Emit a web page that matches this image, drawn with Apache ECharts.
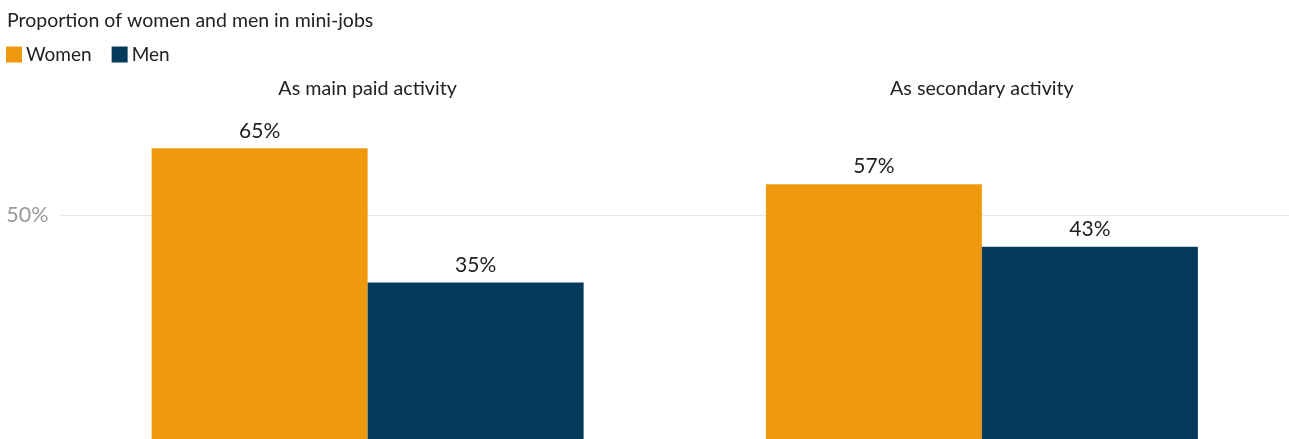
<!DOCTYPE html>
<html>
<head>
<meta charset="utf-8">
<script src="https://cdn.jsdelivr.net/npm/echarts@6/dist/echarts.min.js"></script>
<style>
  html, body { margin: 0; padding: 0; background: #fff; }
  #chart { width: 1289px; height: 439px; }
</style>
</head>
<body>
<div id="chart"></div>
<script>
const categories = ['As main paid activity', 'As secondary activity'];
const women = [65, 57];
const men = [35, 43];
const yTicks = [50];

const chart = echarts.init(document.getElementById('chart'), null, { renderer: 'canvas' });
const font = 'Lato, "Open Sans", sans-serif';

chart.setOption({
  animation: false,
  title: {
    text: 'Proportion of women and men in mini-jobs',
    left: 2, top: 6,
    textStyle: { fontFamily: font, fontSize: 19.5, fontWeight: 'normal', color: '#222' }
  },
  legend: {
    left: 1, top: 40,
    itemWidth: 16, itemHeight: 16, itemGap: 20,
    icon: 'rect',
    textStyle: { fontFamily: font, fontSize: 19, color: '#222', padding: [0, 0, 0, -1] },
    data: ['Women', 'Men']
  },
  grid: { left: 60.5, right: -1.5, top: 126, bottom: -4, containLabel: false },
  xAxis: {
    type: 'category',
    position: 'top',
    data: categories,
    axisLine: { show: false },
    axisTick: { show: false },
    axisLabel: { fontFamily: font, fontSize: 19.7, color: '#222', margin: 27 }
  },
  yAxis: {
    type: 'value',
    min: 0, max: 70, interval: 50,
    axisLine: { show: false },
    axisTick: { show: false },
    axisLabel: {
      fontFamily: font, fontSize: 21.5, color: '#999', margin: 12,
      formatter: v => yTicks.includes(v) ? v + '%' : ''
    },
    splitLine: { show: true, showMinLine: false, showMaxLine: false, lineStyle: { color: '#e6e6e6', width: 1 } }
  },
  series: [
    {
      name: 'Women', type: 'bar', data: women,
      barWidth: 216, barGap: '0%',
      itemStyle: { color: '#EF9A0E' },
      label: { show: true, position: 'top', distance: 7, formatter: '{c}%', fontFamily: font, fontSize: 21, color: '#222' }
    },
    {
      name: 'Men', type: 'bar', data: men,
      barWidth: 216, barGap: '0%',
      itemStyle: { color: '#063A5D' },
      label: { show: true, position: 'top', distance: 7, formatter: '{c}%', fontFamily: font, fontSize: 21, color: '#222' }
    }
  ]
});
</script>
</body>
</html>
